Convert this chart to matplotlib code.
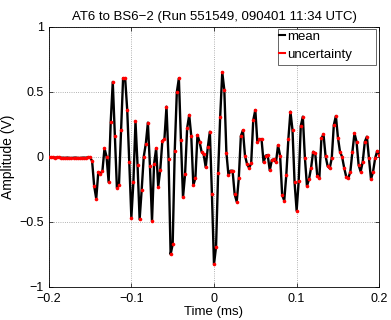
import matplotlib
matplotlib.use('Agg')
import matplotlib.pyplot as plt
from matplotlib.lines import Line2D
from matplotlib.patches import Rectangle
import numpy as np

plt.rcParams['font.family'] = ['Liberation Sans', 'DejaVu Sans']
plt.rcParams['font.size'] = 9.5

# sampling (ms)
t_first = -0.2
dt = 0.0025

# pre-trigger baseline (V)
baseline = [-0.004, -0.005, -0.005, -0.007, -0.006, -0.006, -0.008, -0.008, -0.009, -0.007,
            -0.009, -0.010, -0.008, -0.007, -0.009, -0.010, -0.008, -0.007, -0.008]

# pulse (V)
pulse_a = [-0.005, -0.005, -0.033, -0.225, -0.323, -0.118, -0.133, -0.108, 0.064, 0.0,
           -0.195, 0.264, 0.575, 0.162, -0.238, -0.218, 0.203, 0.603, 0.603, 0.359,
           -0.043, -0.469, -0.192, 0.272, -0.066, -0.482, -0.254, 0.0, 0.1, 0.262,
           -0.074, -0.495, -0.056, 0.064, -0.231, -0.1, 0.121]
pulse_b = [0.134, 0.385, -0.018, -0.751, -0.674, 0.046, 0.495, 0.603, 0.128, -0.312,
           -0.135, 0.218, 0.321, 0.159, -0.22, -0.164, 0.167, 0.115, 0.038, 0.018,
           -0.082, 0.072, 0.192, -0.289, -0.828, -0.692, -0.128, 0.308, 0.649, 0.513,
           0.031, -0.141, -0.108, -0.108, -0.289]
pulse_c = [-0.346, -0.166, 0.159, 0.203, 0.008, -0.056, -0.087, -0.051, 0.28, 0.359,
           0.111, 0.134, 0.136, -0.043, 0.008, 0.013, -0.105, -0.026, -0.02, -0.043,
           0.087, 0.008, -0.295, -0.338, -0.141, 0.136, 0.346, 0.205, -0.197, -0.415,
           -0.187, 0.236, 0.308, -0.008, -0.225]
pulse_d = [-0.172, -0.085, 0.038, 0.026, -0.148, -0.162, 0.142, 0.172, 0.005, -0.072,
           -0.089, -0.012, 0.244, 0.313, 0.146, 0.038, 0.0, -0.085, -0.154, -0.166,
           -0.115, 0.038, 0.18, 0.115, -0.064, -0.115, -0.038, 0.115, 0.154, -0.012,
           -0.174, -0.115, -0.012, 0.044, 0.013]

x_ticks = [-0.2, -0.1, 0, 0.1, 0.2]
y_ticks = [-1, -0.5, 0, 0.5, 1]

amp = np.array(baseline + pulse_a + pulse_b + pulse_c + pulse_d)
t = t_first + dt * np.arange(len(amp))

fig = plt.figure(figsize=(3.91, 3.2), dpi=100)
ax = fig.add_axes([0.1246, 0.104, 0.8454, 0.8126])

ax.plot(t, amp, color='k', lw=1.7, zorder=2)
ax.plot(t, amp, ls='none', marker='o', ms=2.6, mew=0, color='r', zorder=3)

ax.set_xlim(-0.2, 0.2)
ax.set_ylim(-1, 1)
ax.set_xticks(x_ticks)
ax.set_yticks(y_ticks)
ax.set_xticklabels(['\u22120.2', '\u22120.1', '0', '0.1', '0.2'])
ax.set_yticklabels(['\u22121', '\u22120.5', '0', '0.5', '1'])
ax.tick_params(direction='in', top=True, right=True, length=3, width=0.5, labelsize=9)
ax.tick_params(axis='x', pad=4.5)
ax.tick_params(axis='y', pad=3.5)
for s in ax.spines.values():
    s.set_linewidth(0.6)
ax.grid(True, ls=':', color='0.6', lw=0.6)

ax.set_xlabel('Time (ms)', fontsize=9.5, labelpad=1)
ax.set_ylabel('Amplitude (V)', fontsize=10, labelpad=3)
ax.set_title('AT6 to BS6\u22122 (Run 551549, 090401 11:34 UTC)', fontsize=9.5, pad=5)

# legend box, MATLAB style (extra room on the right)
ax.add_patch(Rectangle((0.6936, 0.8515), 0.2964, 0.1385, transform=ax.transAxes,
                       facecolor='white', edgecolor='0.3', lw=0.6, zorder=4))
handles = [Line2D([], [], color='k', lw=1.5), Line2D([], [], color='r', lw=1.5)]
leg = ax.legend(handles, ['mean', 'uncertainty'], loc='upper left',
                bbox_to_anchor=(0.6906, 0.993), frameon=False,
                handlelength=0.45, handletextpad=0.15, borderaxespad=0,
                borderpad=0.15, labelspacing=0.45, fontsize=9.5)
leg.set_zorder(5)

fig.savefig('out.png', dpi=100)
